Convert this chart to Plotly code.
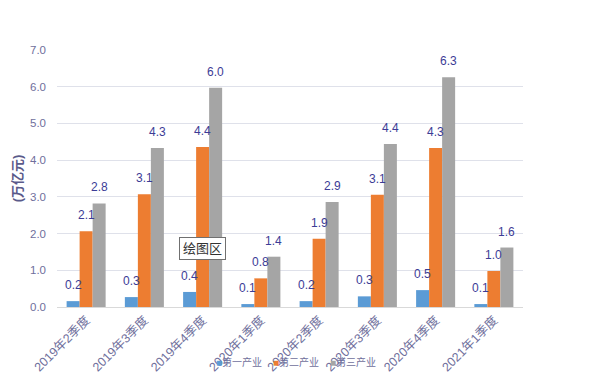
import plotly.graph_objects as go

categories = ["2019年2季度", "2019年3季度", "2019年4季度", "2020年1季度",
              "2020年2季度", "2020年3季度", "2020年4季度", "2021年1季度"]
series_names = ["第一产业", "第二产业", "第三产业"]
primary = [0.16, 0.27, 0.41, 0.08, 0.16, 0.29, 0.46, 0.08]
secondary = [2.06, 3.07, 4.36, 0.78, 1.86, 3.06, 4.33, 0.98]
tertiary = [2.82, 4.33, 5.97, 1.37, 2.86, 4.44, 6.26, 1.62]
y_ticks = [0, 1, 2, 3, 4, 5, 6, 7]

colors = ["#5b9bd5", "#ed7d31", "#a5a5a5"]
FONT = "Liberation Sans, Arial, Noto Sans CJK SC, sans-serif"
TICK_COLOR = "#6f6f9c"
LABEL_COLOR = "#3c3c96"

fig = go.Figure()
all_series = [primary, secondary, tertiary]
for name, vals, col in zip(series_names, all_series, colors):
    fig.add_trace(go.Bar(
        x=categories, y=vals, name=name, showlegend=False,
        marker=dict(color=col, line=dict(width=0)),
    ))

annotations = []
for i, vals in enumerate(all_series):
    for c, v in zip(categories, vals):
        annotations.append(dict(
            x=c, y=v, xref="x", yref="y", text=f"{v:.1f}",
            showarrow=False, yanchor="bottom", yshift=7, xshift=(i - 1) * 13,
            font=dict(size=12, color=LABEL_COLOR, family=FONT),
        ))

# legend drawn as text items below the plot
legend_x = [0.39, 0.513, 0.635]
for name, col, lx in zip(series_names, colors, legend_x):
    annotations.append(dict(
        x=lx, y=-0.215, xref="paper", yref="paper", xanchor="center", yanchor="middle",
        text=f"<span style='color:{col}'>■</span>{name}", showarrow=False,
        font=dict(size=10, color=TICK_COLOR, family=FONT),
    ))

annotations.append(dict(
    x=0.313, y=0.228, xref="paper", yref="paper", text="绘图区",
    xanchor="center", yanchor="middle",
    showarrow=False, bgcolor="white", bordercolor="#707070", borderwidth=1,
    borderpad=3, font=dict(size=13, color="#333333", family=FONT),
))

fig.update_layout(
    width=588, height=366,
    margin=dict(l=49, r=73, t=42, b=67),
    paper_bgcolor="white", plot_bgcolor="white",
    barmode="group", bargap=0.33, bargroupgap=0,
    font=dict(family=FONT, color=TICK_COLOR),
    showlegend=False,
    annotations=annotations,
    xaxis=dict(tickangle=-45, tickfont=dict(size=12.5, color=TICK_COLOR),
               showline=True, linecolor="#d9d9d9", linewidth=1,
               ticks="", showgrid=False, automargin=False),
    yaxis=dict(range=[0, 7], tickvals=y_ticks, tickformat=".1f",
               tickfont=dict(size=11.5, color=TICK_COLOR),
               ticklabelstandoff=10,
               gridcolor="#dfe1ea", gridwidth=1, zeroline=False,
               showline=False, ticks="", automargin=False,
               title=dict(text="<b>(万亿元)</b>", standoff=4,
                          font=dict(size=13, color="#5a5a8a", family=FONT))),
)

fig.write_html("out.html")
